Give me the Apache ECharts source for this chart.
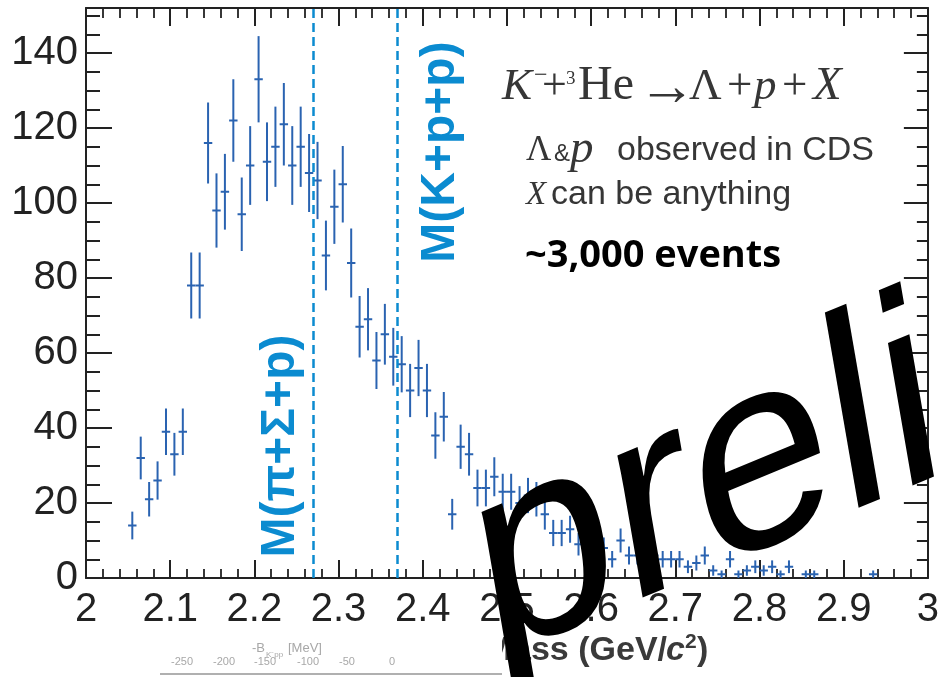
<!DOCTYPE html>
<html><head><meta charset="utf-8">
<script src="https://cdn.jsdelivr.net/npm/echarts@6/dist/echarts.min.js"></script>
<style>html,body{margin:0;padding:0;background:#fff}#c{width:942px;height:677px}</style>
</head><body><div id="c"></div>
<script>
// Bin centres (GeV/c^2), 10 MeV bins
const binCenters = [2.055,2.065,2.075,2.085,2.095,2.105,2.115,2.125,2.135,2.145,
  2.155,2.165,2.175,2.185,2.195,2.205,2.215,2.225,2.235,2.245,
  2.255,2.265,2.275,2.285,2.295,2.305,2.315,2.325,2.335,2.345,
  2.355,2.365,2.375,2.385,2.395,2.405,2.415,2.425,2.435,2.445,
  2.455,2.465,2.475,2.485,2.495,2.505,2.515,2.525,2.535,2.545,
  2.555,2.565,2.575,2.585,2.595,2.605,2.615,2.625,2.635,2.645,
  2.655,2.665,2.675,2.685,2.695,2.705,2.715,2.725,2.735,2.745,
  2.755,2.765,2.775,2.785,2.795,2.805,2.815,2.825,2.835,2.855,
  2.865,2.935];
// Counts per bin
const counts = [14,32,21,26,39,33,39,78,78,116,
  98,103,122,97,110,133,111,115,121,110,
  115,108,106,86,99,105,84,67,69,58,
  65,59,57,50,56,50,38,43,17,35,
  33,24,24,27,23,23,20,22,21,17,
  12,12,13,9,8,9,8,5,10,6,
  6,5,6,5,5,5,3,4,6,2,
  1,5,1,2,3,2,3,1,3,1,
  1,1];
// Error bar half-lengths
const errors = [3.7,5.7,4.6,5.1,6.2,5.7,6.2,8.8,8.8,10.8,
  9.9,10.1,11.0,9.8,10.5,11.5,10.5,10.7,11.0,10.5,
  10.7,10.4,10.3,9.3,9.9,10.2,9.2,8.2,8.3,7.6,
  8.1,7.7,7.5,7.1,7.5,7.1,6.2,6.6,4.1,5.9,
  5.7,4.9,4.9,5.2,4.8,4.8,4.5,4.7,4.6,4.1,
  3.5,3.5,3.6,3.0,2.8,3.0,2.8,2.2,3.2,2.4,
  2.4,2.2,2.4,2.2,2.2,2.2,1.7,2.0,2.4,1.4,
  1.0,2.2,1.0,1.4,1.7,1.4,1.7,1.0,1.7,1.0,
  1.0,1.0];
const binWidth = 0.01;
// Threshold masses
const thresholdValues = [2.267, 2.370];
const thresholdLabels = ['M(\u03c0+\u03a3+p)', 'M(K+p+p)'];
// Inset scale labels
const insetTicks = ['-250','-200','-150','-100','-50','0'];

const chart = echarts.init(document.getElementById('c'), null, {renderer:'canvas'});
const AX = '#222';
const BLUE = '#2a63b1';
const CYAN = '#0b8bd0';

function renderItem(params, api){
  const x = api.value(0), y = api.value(1), e = api.value(2);
  const t = api.coord([x, y + e]), b = api.coord([x, y - e]);
  const l = api.coord([x - binWidth/2, y]), r = api.coord([x + binWidth/2, y]);
  const style = {stroke: BLUE, lineWidth: 2};
  return {type:'group', children:[
    {type:'line', shape:{x1:t[0],y1:t[1],x2:b[0],y2:b[1]}, style},
    {type:'line', shape:{x1:l[0],y1:l[1],x2:r[0],y2:r[1]}, style}
  ]};
}

function txt(text, x, base, size, o){
  o = o || {};
  const fam = o.family || '"Liberation Sans", Arial, sans-serif';
  return {type:'text', x:x, y: base - 0.35*size, z: o.z || 10, rotation: o.rot || 0,
    style:{text:text, fill:o.color || '#333',
      font:(o.italic?'italic ':'normal ')+(o.bold?'bold ':'normal ')+size+'px '+fam,
      align:o.align||'left', textAlign:o.align||'left',
      verticalAlign:'middle', textVerticalAlign:'middle'}};
}
const SERIF = '"Liberation Serif", "Times New Roman", serif';
const TXT = '#363636';
const GREY = '#a8a8a8';

const graphics = [
  // reaction
  txt('K', 502, 103, 45, {family:SERIF, italic:true, color:TXT}),
  txt('\u2212', 534, 84, 24, {family:SERIF, color:TXT}),
  txt('+', 542, 103, 44, {family:SERIF, color:TXT}),
  txt('3', 566, 86, 19, {family:SERIF, color:TXT}),
  txt('He', 578, 103, 48, {family:SERIF, color:TXT}),
  {type:'text', x:638, y:90, z:10, style:{text:'\u2192', fill:TXT, font:'58px "Liberation Serif", serif',
    align:'left', textAlign:'left', verticalAlign:'middle', textVerticalAlign:'middle'}},
  txt('\u039b', 689, 103, 45, {family:SERIF, color:TXT}),
  txt('+', 727, 103, 45, {family:SERIF, color:TXT}),
  txt('p', 754, 103, 45, {family:SERIF, italic:true, color:TXT}),
  txt('+', 782, 103, 45, {family:SERIF, color:TXT}),
  txt('X', 813, 103, 47, {family:SERIF, italic:true, color:TXT}),
  // line 2
  txt('\u039b', 526, 163, 35, {family:SERIF, color:TXT}),
  txt('&', 554, 163, 24, {color:TXT}),
  txt('p', 570, 166, 47, {family:SERIF, italic:true, color:TXT}),
  txt('observed in CDS', 617, 163, 34, {color:TXT}),
  // line 3
  txt('X', 526, 207, 33, {family:SERIF, italic:true, color:TXT}),
  txt('can be anything', 551, 207, 34, {color:TXT}),
  // line 4
  txt('~3,000 events', 525, 269, 38, {family:'"Open Sans", sans-serif', bold:true, color:'#000'}),
  // threshold labels (vertical)
  {type:'text', x:281, y:446, rotation:Math.PI/2, z:10,
    style:{text:thresholdLabels[0], fill:CYAN, font:'bold 48px "Liberation Sans", Arial',
      align:'center', textAlign:'center', verticalAlign:'middle', textVerticalAlign:'middle'}},
  {type:'text', x:441, y:152, rotation:Math.PI/2, z:10,
    style:{text:thresholdLabels[1], fill:CYAN, font:'bold 48px "Liberation Sans", Arial',
      align:'center', textAlign:'center', verticalAlign:'middle', textVerticalAlign:'middle'}},
  // x axis title
  txt('Mass (GeV/', 667, 663, 34, {bold:true, align:'right', color:'#3a3a3a'}),
  txt('c', 666, 663, 34, {bold:true, italic:true, color:'#3a3a3a'}),
  txt('2', 685, 650, 21, {bold:true, color:'#3a3a3a'}),
  txt(')', 697, 663, 34, {bold:true, color:'#3a3a3a'}),
  // faint inset (pasted panel with white background)
  {type:'rect', shape:{x:140, y:630, width:362, height:47}, style:{fill:'#fff'}, z:20},
  txt('-B', 252, 653, 13, {color:GREY, z:21}),
  txt('K\u207bpp', 266, 658, 8, {color:GREY, z:21}),
  txt('[MeV]', 288, 653, 13, {color:GREY, z:21}),
  {type:'line', shape:{x1:160,y1:674,x2:502,y2:674}, style:{stroke:'#b0b0b0', lineWidth:2}, z:21},
  // preliminary overlay
  {type:'group', x:492, y:670, scaleY:1.55, z:100, children:[
    {type:'text', rotation:15*Math.PI/180, scaleX:1.40, z:100,
      style:{text:'preliminary', x:0, y:-0.31*180, fill:'#000', font:'180px "Liberation Sans", Arial',
        align:'left', textAlign:'left', verticalAlign:'middle', textVerticalAlign:'middle'}}
  ]}
];
const insetX = [182,224,265,308,347,392];
insetTicks.forEach((t,i)=>graphics.push(txt(t, insetX[i], 666, 11, {align:'center', color:GREY, z:21})));

const option = {
  animation:false,
  backgroundColor:'#fff',
  grid:{left:86, right:14, top:8, bottom:99},
  xAxis:[
    {type:'value', min:2, max:3, interval:0.1, position:'bottom',
     axisLine:{show:true, onZero:false, lineStyle:{color:AX, width:2}},
     axisTick:{show:true, inside:true, length:18, lineStyle:{color:AX, width:2}},
     minorTick:{show:true, splitNumber:5, length:9, lineStyle:{color:AX, width:1.8}},
     axisLabel:{margin:12, fontSize:40, fontFamily:'"Liberation Sans", Arial', color:AX,
       formatter:v=>String(+(+v).toFixed(1))},
     splitLine:{show:false}, minorSplitLine:{show:false}},
    {type:'value', min:2, max:3, interval:0.1, position:'top',
     axisLine:{show:true, onZero:false, lineStyle:{color:AX, width:2}},
     axisTick:{show:true, inside:true, length:18, lineStyle:{color:AX, width:2}},
     minorTick:{show:true, splitNumber:5, length:10, lineStyle:{color:AX, width:1.8}},
     axisLabel:{show:false}, splitLine:{show:false}}
  ],
  yAxis:[
    {type:'value', min:0, max:152, interval:20, position:'left',
     axisLine:{show:true, onZero:false, lineStyle:{color:AX, width:2}},
     axisTick:{show:true, inside:true, length:26, lineStyle:{color:AX, width:2}},
     axisLabel:{margin:8, fontSize:40, fontFamily:'"Liberation Sans", Arial', color:AX,
       formatter:v=>(v % 20 === 0 ? String(v) : '')},
     splitLine:{show:false}},
    {type:'value', min:0, max:152, interval:5, position:'left',
     axisLine:{show:false},
     axisTick:{show:true, inside:true, length:14, lineStyle:{color:AX, width:2}},
     axisLabel:{show:false}, splitLine:{show:false}},
    {type:'value', min:0, max:152, interval:20, position:'right',
     axisLine:{show:true, onZero:false, lineStyle:{color:AX, width:2}},
     axisTick:{show:true, inside:true, length:24, lineStyle:{color:AX, width:2}},
     axisLabel:{show:false}, splitLine:{show:false}},
    {type:'value', min:0, max:152, interval:5, position:'right',
     axisLine:{show:false},
     axisTick:{show:true, inside:true, length:11, lineStyle:{color:AX, width:2}},
     axisLabel:{show:false}, splitLine:{show:false}}
  ],
  series:[{
    type:'custom', xAxisIndex:0, yAxisIndex:0, z:3,
    data: binCenters.map((x,i)=>[x, counts[i], errors[i]]),
    renderItem: renderItem,
    markLine:{silent:true, symbol:'none', animation:false,
      label:{show:false},
      lineStyle:{type:[9,5], color:CYAN, width:2.5},
      data: thresholdValues.map(v=>({xAxis:v}))}
  }],
  graphic: graphics
};
chart.setOption(option);
</script></body></html>
